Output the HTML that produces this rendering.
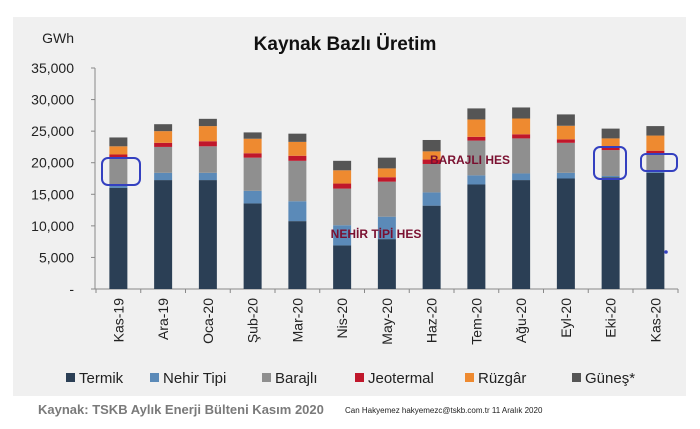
<!DOCTYPE html>
<html><head><meta charset="utf-8"><style>
body{margin:0;background:#fff;font-family:"Liberation Sans",sans-serif;}
svg{display:block}
</style></head><body>
<svg id="c" width="700" height="429">
<rect x="13" y="17" width="673" height="379" fill="#f0f0f0"/>
<text x="345" y="50" text-anchor="middle" font-size="19" font-weight="bold" fill="#111">Kaynak Bazlı Üretim</text>
<text x="74" y="43" text-anchor="end" font-size="14" fill="#222">GWh</text>
<g id="axes"></g><g id="bars"></g>
<text x="470" y="164" text-anchor="middle" font-size="12" font-weight="bold" fill="#7a1030">BARAJLI HES</text>
<text x="376" y="238" text-anchor="middle" font-size="12" font-weight="bold" fill="#7a1030">NEHİR TİPİ HES</text>
<rect x="102" y="158" width="38" height="27" rx="6" fill="none" stroke="#3440c0" stroke-width="2"/>
<rect x="594" y="147" width="32" height="32" rx="6" fill="none" stroke="#3440c0" stroke-width="2"/>
<rect x="641" y="154" width="36" height="17" rx="5" fill="none" stroke="#3440c0" stroke-width="2"/>
<circle cx="666" cy="252" r="1.8" fill="#3440c0"/>
<g id="legend"></g>
<text x="38" y="414" font-size="13" font-weight="bold" fill="#7a7a7a">Kaynak:  TSKB Aylık Enerji Bülteni Kasım 2020</text>
<text x="345" y="413" font-size="8" fill="#222">Can Hakyemez hakyemezc@tskb.com.tr  11 Aralık 2020</text>
</svg>
<script>
const categories=["Kas-19","Ara-19","Oca-20","Şub-20","Mar-20","Nis-20","May-20","Haz-20","Tem-20","Ağu-20","Eyl-20","Eki-20","Kas-20"];
const seriesNames=["Termik","Nehir Tipi","Barajlı","Jeotermal","Rüzgâr","Güneş*"];
const termik=[16000,17250,17250,13550,10750,6900,7900,13200,16550,17250,17500,17700,18400];
const nehir=[400,1150,1150,2000,3150,3200,3550,2100,1450,1050,900,200,200];
const barajli=[4300,4100,4200,5250,6400,5800,5550,4500,5500,5550,4750,4100,2900];
const jeotermal=[600,650,800,700,800,800,700,700,600,650,550,600,400];
const ruzgar=[1300,1850,2400,2300,2200,2100,1400,1300,2750,2500,2150,1250,2400];
const gunes=[1400,1100,1150,1000,1300,1500,1700,1800,1750,1750,1800,1550,1500];
const yTicks=[0,5000,10000,15000,20000,25000,30000,35000];
const yTickLabels=["-","5,000","10,000","15,000","20,000","25,000","30,000","35,000"];
const colors=["#2b3f55","#5b8ab8","#8f8f8f","#c0172b","#ee8a30","#555555"];
const NS="http://www.w3.org/2000/svg";
const y0=289,pxPer=221/35000,x0=96,step=44.75,bw=18;
const yS=v=>y0-v*pxPer, xS=i=>x0+step*(i+0.5);
function mk(t,a,p){const e=document.createElementNS(NS,t);for(const k in a)e.setAttribute(k,a[k]);p.appendChild(e);return e;}
const ax=document.getElementById('axes');
const yl=mk('line',{x1:95,y1:yS(35000),x2:95,y2:y0,stroke:'#888'},ax);


const xl=mk('line',{x1:95,y1:y0,x2:678,y2:y0,stroke:'#888'},ax);


yTicks.forEach((v,i)=>{
  mk('line',{x1:91,y1:yS(v),x2:95,y2:yS(v),stroke:'#888'},ax);
  const t=mk('text',{x:74,y:yS(v)+5,'text-anchor':'end','font-size':14,fill:'#222'},ax);
  t.textContent=yTickLabels[i];
  
  
});
categories.forEach((c,i)=>{
  mk('line',{x1:x0+step*i,y1:y0,x2:x0+step*i,y2:y0+4,stroke:'#888'},ax);
  const x=xS(i),t=mk('text',{x:0,y:0,'text-anchor':'end','font-size':14,fill:'#222',transform:`translate(${x+5},${y0+9}) rotate(-90)`},ax);
  t.textContent=c;
  
  
});
mk('line',{x1:678,y1:y0,x2:678,y2:y0+4,stroke:'#888'},ax);
const series=[termik,nehir,barajli,jeotermal,ruzgar,gunes];
const bg=document.getElementById('bars');
categories.forEach((c,i)=>{
  let acc=0;
  series.forEach((s,k)=>{
    const r=mk('rect',{x:xS(i)-bw/2,y:yS(acc+s[i]),width:bw,height:s[i]*pxPer,fill:colors[k]},bg);
    
    
    acc+=s[i];
  });
});
const lg=document.getElementById('legend');
const lx=[66,150,262,355,465,572];
seriesNames.forEach((n,k)=>{
  const g=mk('g',{},lg);
  
  
  mk('rect',{x:lx[k],y:373,width:9,height:9,fill:colors[k]},g);
  const t=mk('text',{x:lx[k]+13,y:383,'font-size':15,fill:'#222'},g);
  t.textContent=n;
});
</script>
</body></html>
